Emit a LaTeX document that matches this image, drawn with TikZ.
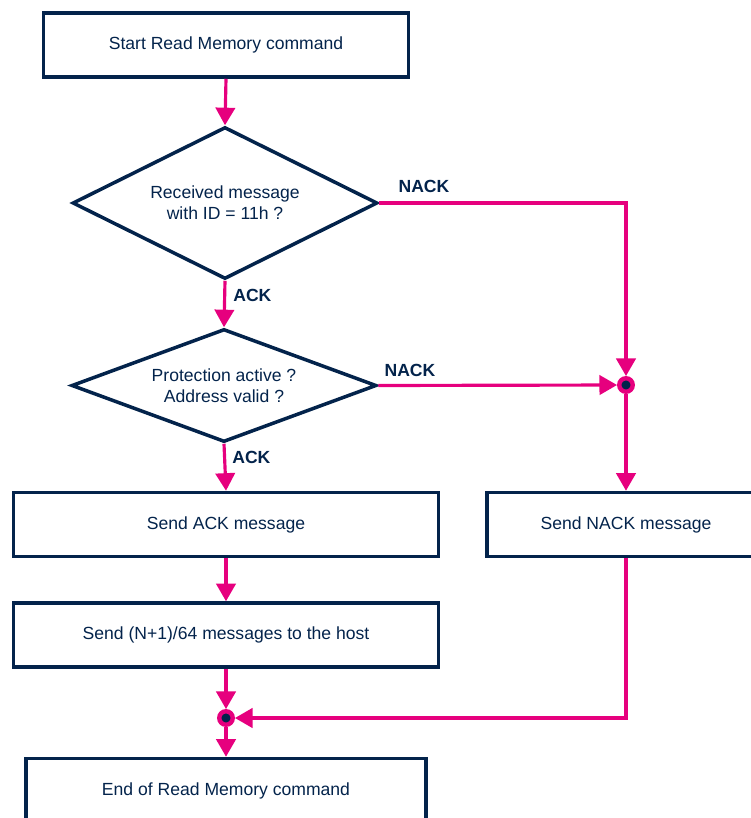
\documentclass[tikz,border=0pt]{standalone}
\usepackage{fontspec}
\setmainfont{Liberation Sans}
\usetikzlibrary{shapes.geometric,arrows.meta,positioning}
\definecolor{stblue}{HTML}{03234B}
\definecolor{stpink}{HTML}{E6007E}
\tikzset{
box/.style={
  draw=stblue,line width=2pt,text=stblue,
  minimum height=1.28cm,align=center},
decision/.style={
  draw=stblue,line width=2pt,text=stblue,
  diamond,aspect=2,inner sep=0pt,align=center},
flow/.style={
  draw=stpink,line width=1.8pt,-{Triangle[width=11pt,length=10pt]}},
junc/.style={
  circle,draw=stpink,fill=stblue,line width=2.5pt,
  minimum size=0.27cm,inner sep=0pt},
lbl/.style={text=stblue,font=\bfseries,inner sep=0pt}}

\begin{document}
\begin{tikzpicture}
\useasboundingbox (0,0) rectangle (15,-16.36);
\node[box,minimum width=7.3cm] (start) at (4.52,-0.9) {Start Read Memory command};
\node[decision,minimum width=6.1cm,minimum height=3.04cm] (msgid) at (4.5,-4.06)
    {Received message\\with ID = 11h ?};
\node[decision,minimum width=6.1cm,minimum height=2.26cm] (prot) at (4.48,-7.71)
    {Protection active ?\\Address valid ?};
\node[box,minimum width=8.5cm] (sendack) at (4.52,-10.49) {Send ACK message};
\node[box,minimum width=5.56cm] (sendnack) at (12.52,-10.49) {Send NACK message};
\node[box,minimum width=8.5cm] (sendmsg) at (4.52,-12.7) {Send (N+1)/64 messages to the host};
\node[box,minimum width=8cm,minimum height=1.3cm] (stop) at (4.52,-15.82) {End of Read Memory command};
\node[junc] (jnack) at (12.52,-7.7) {};
\node[junc] (jend) at (4.52,-14.36) {};

% main path
\draw[flow] (start.south) -- (msgid.north);
\draw[flow] (msgid.south) -- (prot.north);
\draw[flow] (prot.south) -- (sendack.north);
\draw[flow] (sendack.south) -- (sendmsg.north);
\draw[flow] (sendmsg.south) -- (jend.north);
\draw[flow] (jend.south) -- (stop.north);
% nack path
\draw[flow] (msgid.east) -| (jnack.north);
\draw[flow] (prot.east) -- (jnack.west);
\draw[flow] (jnack.south) -- (sendnack.north);
\draw[flow] (sendnack.south) |- (jend.east);

\node[lbl,below right=0.16cm and 0.16cm of msgid.south] {ACK};
\node[lbl,below right=0.14cm and 0.16cm of prot.south] {ACK};
\node[lbl,above right=0.2cm and 0.38cm of msgid.east] {NACK};
\node[lbl,above right=0.16cm and 0.12cm of prot.east] {NACK};
\end{tikzpicture}
\end{document}
